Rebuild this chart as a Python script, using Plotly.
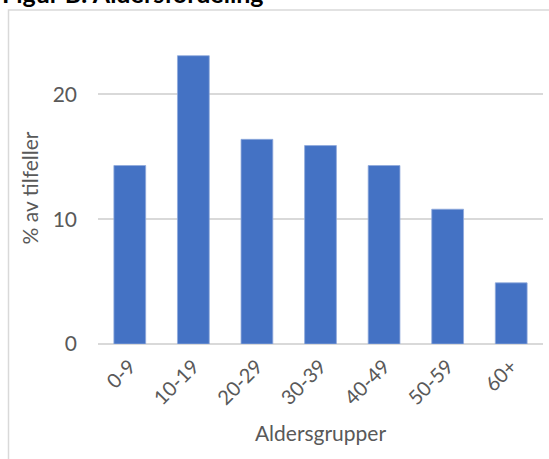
import plotly.graph_objects as go

# Age groups and share of cases (%)
age_groups = ["0-9", "10-19", "20-29", "30-39", "40-49", "50-59", "60+"]
share_pct = [14.3, 23.1, 16.4, 15.9, 14.3, 10.8, 4.9]
y_ticks = [0, 10, 20]

W, H = 549, 459
ML, MR, MT, MB = 98, 6, 32, 115
PW, PH = W - ML - MR, H - MT - MB


def px_x(x):
    return (x - ML) / PW


def px_y(y):
    return 1 - (y - MT) / PH


FONT = "Lato"
GREY = "#595959"

fig = go.Figure(
    go.Bar(
        x=age_groups,
        y=share_pct,
        marker=dict(color="#4472C4", line=dict(color="#8FAADC", width=0.8)),
        hoverinfo="x+y",
    )
)

fig.update_layout(
    width=W,
    height=H,
    margin=dict(l=ML, r=MR, t=MT, b=MB),
    paper_bgcolor="white",
    plot_bgcolor="white",
    bargap=0.5,
    showlegend=False,
    font=dict(family=FONT, color=GREY, size=20),
)

fig.update_xaxes(
    range=[-0.5, 6.5],
    tickangle=-45,
    tickfont=dict(size=20, color=GREY),
    ticklabelstandoff=6,
    showgrid=False,
    showline=False,
    ticks="",
    title=dict(text="Aldersgrupper", font=dict(size=21, color=GREY), standoff=18),
)

fig.update_yaxes(
    range=[0, 25],
    tickvals=y_ticks,
    tickfont=dict(size=21, color=GREY),
    showgrid=True,
    gridcolor="#D9D9D9",
    gridwidth=2,
    zeroline=True,
    zerolinecolor="#D9D9D9",
    zerolinewidth=2,
    ticks="",
    ticklabelstandoff=20,
    title=dict(text="% av tilfeller", font=dict(size=21, color=GREY), standoff=8),
)

# Chart-area frame
fig.add_shape(
    type="rect",
    xref="paper",
    yref="paper",
    x0=px_x(8.5),
    x1=px_x(560),
    y0=px_y(480),
    y1=px_y(10),
    line=dict(color="#D9D9D9", width=1.5),
    fillcolor="rgba(0,0,0,0)",
    layer="below",
)

# Figure heading above the frame
fig.add_annotation(
    text="<b>Figur B: Aldersfordeling</b>",
    xref="paper",
    yref="paper",
    x=px_x(0),
    y=px_y(10),
    xanchor="left",
    yanchor="bottom",
    showarrow=False,
    font=dict(family=FONT, size=25, color="#000000"),
)

fig.write_html("out.html")
